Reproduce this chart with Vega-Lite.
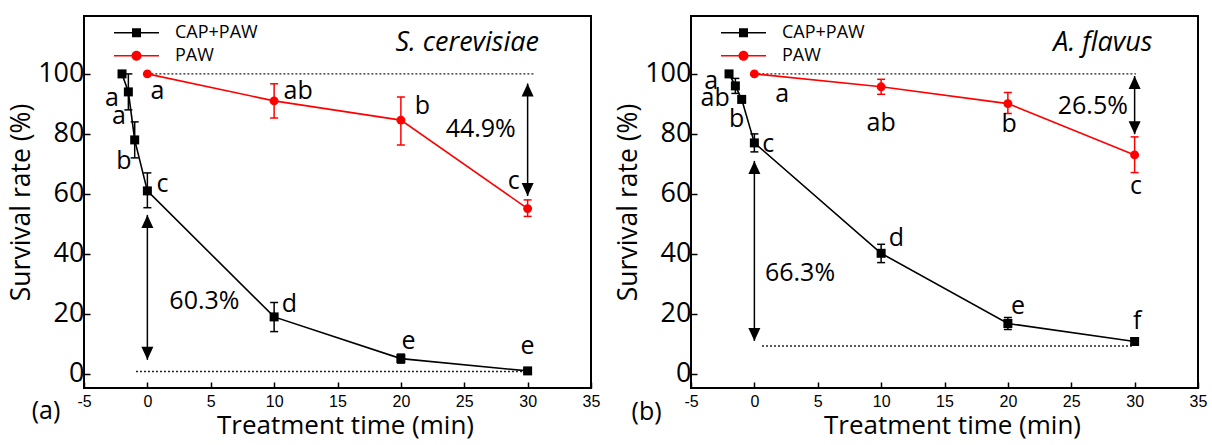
{
  "$schema": "https://vega.github.io/schema/vega-lite/v6.json",
  "padding": {"left": 7, "top": 15, "right": 5, "bottom": 2},
  "bounds": "flush",
  "spacing": 100,
  "datasets": {
    "sc": [
      {"s": "CAP+PAW", "t": -2, "v": 100, "lo": 100, "hi": 100},
      {"s": "CAP+PAW", "t": -1.5, "v": 94, "lo": 88, "hi": 100},
      {"s": "CAP+PAW", "t": -1, "v": 78, "lo": 72, "hi": 84},
      {"s": "CAP+PAW", "t": 0, "v": 61, "lo": 55.4, "hi": 67},
      {"s": "CAP+PAW", "t": 10, "v": 19, "lo": 14.1, "hi": 23.8},
      {"s": "CAP+PAW", "t": 20, "v": 5.1, "lo": 3.6, "hi": 6.6},
      {"s": "CAP+PAW", "t": 30, "v": 1, "lo": 0.4, "hi": 1.6},
      {"s": "PAW", "t": 0, "v": 100, "lo": 100, "hi": 100},
      {"s": "PAW", "t": 10, "v": 91, "lo": 85.3, "hi": 96.7},
      {"s": "PAW", "t": 20, "v": 84.6, "lo": 76.3, "hi": 92.3},
      {"s": "PAW", "t": 30, "v": 55.1, "lo": 52.5, "hi": 58}
    ],
    "af": [
      {"s": "CAP+PAW", "t": -2, "v": 100, "lo": 100, "hi": 100},
      {"s": "CAP+PAW", "t": -1.5, "v": 96, "lo": 93.5, "hi": 98.5},
      {"s": "CAP+PAW", "t": -1, "v": 91.5, "lo": 90.5, "hi": 92.5},
      {"s": "CAP+PAW", "t": 0, "v": 77, "lo": 74, "hi": 80},
      {"s": "CAP+PAW", "t": 10, "v": 40.2, "lo": 37.1, "hi": 43.2},
      {"s": "CAP+PAW", "t": 20, "v": 16.8, "lo": 14.8, "hi": 18.8},
      {"s": "CAP+PAW", "t": 30, "v": 10.8, "lo": 9.8, "hi": 11.8},
      {"s": "PAW", "t": 0, "v": 100, "lo": 100, "hi": 100},
      {"s": "PAW", "t": 10, "v": 95.7, "lo": 93.2, "hi": 98.2},
      {"s": "PAW", "t": 20, "v": 90.1, "lo": 86.8, "hi": 93.8},
      {"s": "PAW", "t": 30, "v": 73, "lo": 67.1, "hi": 79}
    ],
    "sc_hl": [
      {"x": 0, "x2": 30.6, "y": 100},
      {"x": -0.9, "x2": 30, "y": 0.8}
    ],
    "af_hl": [
      {"x": 0, "x2": 30.1, "y": 100},
      {"x": 0.6, "x2": 29.9, "y": 9.3}
    ],
    "sc_ar": [
      {"x": 0, "y1": 53, "y2": 4.7},
      {"x": 30, "y1": 96.8, "y2": 59.3}
    ],
    "af_ar": [
      {"x": 0, "y1": 71, "y2": 11},
      {"x": 30, "y1": 99.3, "y2": 79.9}
    ],
    "sc_lab": [
      {"x": -2.8, "y": 92, "t": "a"},
      {"x": -2.25, "y": 86, "t": "a"},
      {"x": -1.85, "y": 71, "t": "b"},
      {"x": 1.2, "y": 63.3, "t": "c"},
      {"x": 0.8, "y": 94.3, "t": "a"},
      {"x": 11.9, "y": 94.3, "t": "ab"},
      {"x": 21.7, "y": 89.3, "t": "b"},
      {"x": 28.9, "y": 64.3, "t": "c"},
      {"x": 11.2, "y": 23.3, "t": "d"},
      {"x": 20.6, "y": 11, "t": "e"},
      {"x": 30, "y": 9.3, "t": "e"},
      {"x": 4.5, "y": 24.3, "t": "60.3%"},
      {"x": 26.3, "y": 81.7, "t": "44.9%"},
      {"x": -8, "y": -12.3, "t": "(a)"}
    ],
    "af_lab": [
      {"x": -3.4, "y": 97.7, "t": "a"},
      {"x": -3.1, "y": 92, "t": "ab"},
      {"x": -1.4, "y": 84.9, "t": "b"},
      {"x": 1.1, "y": 76.6, "t": "c"},
      {"x": 2.2, "y": 93.2, "t": "a"},
      {"x": 10, "y": 83.7, "t": "ab"},
      {"x": 20.1, "y": 83.2, "t": "b"},
      {"x": 30.1, "y": 62.7, "t": "c"},
      {"x": 11.2, "y": 45.4, "t": "d"},
      {"x": 20.8, "y": 22.7, "t": "e"},
      {"x": 30.2, "y": 17.7, "t": "f"},
      {"x": 3.6, "y": 33.8, "t": "66.3%"},
      {"x": 26.7, "y": 89.3, "t": "26.5%"},
      {"x": -8.5, "y": -12.6, "t": "(b)"}
    ],
    "sc_title": [{"x": 30.9, "y": 110.4, "t": "S. cerevisiae"}],
    "af_title": [{"x": 31.4, "y": 110.4, "t": "A. flavus"}]
  },
  "hconcat": [
    {
      "width": 507,
      "height": 372,
      "layer": [
        {
          "data": {"name": "sc_hl"},
          "mark": {"type": "rule", "strokeDash": [2, 2], "strokeWidth": 1.3, "color": "#222222"},
          "encoding": {
            "x": {"field": "x", "type": "quantitative", "scale": {"domain": [-5, 35], "nice": false, "zero": false},
              "axis": {"values": [-5, -2.5, 0, 2.5, 5, 7.5, 10, 12.5, 15, 17.5, 20, 22.5, 25, 27.5, 30, 32.5, 35],
                "labelExpr": "datum.value % 5 === 0 ? '' + datum.value : ''",
                "tickSize": {"condition": {"test": "datum.value % 5 === 0", "value": -6}, "value": -3},
                "title": "Treatment time (min)", "labelFont": "Arial", "labelFontSize": 16, "labelPadding": 11,
                "titleFont": "Open Sans", "titleFontSize": 26, "titleFontWeight": "normal", "titlePadding": 3, "titleX": 261,
                "domain": false, "grid": false, "tickColor": "black", "tickWidth": 1.5, "labelColor": "black", "titleColor": "black",
                "labelFlush": false, "labelOverlap": false}},
            "x2": {"field": "x2"},
            "y": {"field": "y", "type": "quantitative", "scale": {"domain": [-4.7, 119.3], "nice": false, "zero": false},
              "axis": {"values": [0, 10, 20, 30, 40, 50, 60, 70, 80, 90, 100, 110],
                "labelExpr": "datum.value % 20 === 0 ? '' + datum.value : ''",
                "tickSize": {"condition": {"test": "datum.value % 20 === 0", "value": -6}, "value": -3},
                "title": "Survival rate (%)", "labelFont": "Open Sans", "labelFontSize": 27, "labelPadding": 6,
                "titleFont": "Open Sans", "titleFontSize": 26.5, "titleFontWeight": "normal", "titlePadding": 2,
                "domain": false, "grid": false, "tickColor": "black", "tickWidth": 1.5, "labelColor": "black", "titleColor": "black",
                "labelOverlap": false}}
          }
        },
        {
          "data": {"name": "sc_ar"},
          "mark": {"type": "rule", "strokeWidth": 1.5, "color": "black"},
          "encoding": {"x": {"field": "x", "type": "quantitative"}, "y": {"field": "y1", "type": "quantitative"}, "y2": {"field": "y2"}}
        },
        {
          "data": {"name": "sc_ar"},
          "mark": {"type": "point", "shape": "M0,0L-1.2,2.6L1.2,2.6Z", "filled": true, "size": 100, "color": "black", "opacity": 1},
          "encoding": {"x": {"field": "x", "type": "quantitative"}, "y": {"field": "y1", "type": "quantitative"}}
        },
        {
          "data": {"name": "sc_ar"},
          "mark": {"type": "point", "shape": "M0,0L-1.2,-2.6L1.2,-2.6Z", "filled": true, "size": 100, "color": "black", "opacity": 1},
          "encoding": {"x": {"field": "x", "type": "quantitative"}, "y": {"field": "y2", "type": "quantitative"}}
        },
        {
          "data": {"name": "sc"},
          "mark": {"type": "rule", "strokeWidth": 1.5},
          "encoding": {"x": {"field": "t", "type": "quantitative"}, "y": {"field": "lo", "type": "quantitative"}, "y2": {"field": "hi"},
            "color": {"field": "s", "type": "nominal", "scale": {"domain": ["CAP+PAW", "PAW"], "range": ["#000000", "#ff0000"]}}}
        },
        {
          "data": {"name": "sc"},
          "mark": {"type": "tick", "orient": "horizontal", "size": 8, "thickness": 1.5, "opacity": 1},
          "encoding": {"x": {"field": "t", "type": "quantitative"}, "y": {"field": "lo", "type": "quantitative"},
            "color": {"field": "s", "type": "nominal", "scale": {"domain": ["CAP+PAW", "PAW"], "range": ["#000000", "#ff0000"]}}}
        },
        {
          "data": {"name": "sc"},
          "mark": {"type": "tick", "orient": "horizontal", "size": 8, "thickness": 1.5, "opacity": 1},
          "encoding": {"x": {"field": "t", "type": "quantitative"}, "y": {"field": "hi", "type": "quantitative"},
            "color": {"field": "s", "type": "nominal", "scale": {"domain": ["CAP+PAW", "PAW"], "range": ["#000000", "#ff0000"]}}}
        },
        {
          "data": {"name": "sc"},
          "mark": {"type": "line", "strokeWidth": 1.6},
          "encoding": {"x": {"field": "t", "type": "quantitative"}, "y": {"field": "v", "type": "quantitative"},
            "color": {"field": "s", "type": "nominal", "scale": {"domain": ["CAP+PAW", "PAW"], "range": ["#000000", "#ff0000"]},
              "legend": {"orient": "none", "legendX": 43.5, "legendY": 7.7, "title": null, "labelFont": "Open Sans", "labelFontSize": 18,
                "labelColor": "black", "labelOffset": 29.5, "rowPadding": 5, "symbolSize": 100, "symbolStrokeWidth": 0,
                "encode": {"symbols": {"update": {
                  "shape": {"signal": "datum.value === 'PAW' ? 'M-4.5,-0.16L4.5,-0.16L4.5,0.16L-4.5,0.16Z M-1,0A1,1 0 1,1 1,0A1,1 0 1,1 -1,0Z' : 'M-4.5,-0.16L4.5,-0.16L4.5,0.16L-4.5,0.16Z M-0.9,-0.9L0.9,-0.9L0.9,0.9L-0.9,0.9Z'"},
                  "fill": {"signal": "datum.value === 'PAW' ? '#ff0000' : '#000000'"},
                  "stroke": {"value": "transparent"},
                  "size": {"value": 100}}}}}}}
        },
        {
          "data": {"name": "sc"},
          "transform": [{"filter": "datum.s === 'CAP+PAW'"}],
          "mark": {"type": "point", "filled": true, "opacity": 1, "shape": "square", "size": 81, "color": "#000000"},
          "encoding": {"x": {"field": "t", "type": "quantitative"}, "y": {"field": "v", "type": "quantitative"}}
        },
        {
          "data": {"name": "sc"},
          "transform": [{"filter": "datum.s === 'PAW'"}],
          "mark": {"type": "point", "filled": true, "opacity": 1, "shape": "circle", "size": 80, "color": "#ff0000"},
          "encoding": {"x": {"field": "t", "type": "quantitative"}, "y": {"field": "v", "type": "quantitative"}}
        },
        {
          "data": {"name": "sc_lab"},
          "mark": {"type": "text", "font": "Open Sans", "fontSize": 25, "color": "black", "align": "center", "baseline": "middle"},
          "encoding": {"x": {"field": "x", "type": "quantitative"}, "y": {"field": "y", "type": "quantitative"}, "text": {"field": "t"}}
        },
        {
          "data": {"name": "sc_title"},
          "mark": {"type": "text", "font": "Open Sans", "fontSize": 27, "fontStyle": "italic", "color": "black", "align": "right", "baseline": "middle"},
          "encoding": {"x": {"field": "x", "type": "quantitative"}, "y": {"field": "y", "type": "quantitative"}, "text": {"field": "t"}}
        }
      ]
    },
    {
      "width": 507,
      "height": 372,
      "layer": [
        {
          "data": {"name": "af_hl"},
          "mark": {"type": "rule", "strokeDash": [2, 2], "strokeWidth": 1.3, "color": "#222222"},
          "encoding": {
            "x": {"field": "x", "type": "quantitative", "scale": {"domain": [-5, 35], "nice": false, "zero": false},
              "axis": {"values": [-5, -2.5, 0, 2.5, 5, 7.5, 10, 12.5, 15, 17.5, 20, 22.5, 25, 27.5, 30, 32.5, 35],
                "labelExpr": "datum.value % 5 === 0 ? '' + datum.value : ''",
                "tickSize": {"condition": {"test": "datum.value % 5 === 0", "value": -6}, "value": -3},
                "title": "Treatment time (min)", "labelFont": "Arial", "labelFontSize": 16, "labelPadding": 11,
                "titleFont": "Open Sans", "titleFontSize": 26, "titleFontWeight": "normal", "titlePadding": 3, "titleX": 261,
                "domain": false, "grid": false, "tickColor": "black", "tickWidth": 1.5, "labelColor": "black", "titleColor": "black",
                "labelFlush": false, "labelOverlap": false}},
            "x2": {"field": "x2"},
            "y": {"field": "y", "type": "quantitative", "scale": {"domain": [-4.7, 119.3], "nice": false, "zero": false},
              "axis": {"values": [0, 10, 20, 30, 40, 50, 60, 70, 80, 90, 100, 110],
                "labelExpr": "datum.value % 20 === 0 ? '' + datum.value : ''",
                "tickSize": {"condition": {"test": "datum.value % 20 === 0", "value": -6}, "value": -3},
                "title": "Survival rate (%)", "labelFont": "Open Sans", "labelFontSize": 27, "labelPadding": 6,
                "titleFont": "Open Sans", "titleFontSize": 26.5, "titleFontWeight": "normal", "titlePadding": 2,
                "domain": false, "grid": false, "tickColor": "black", "tickWidth": 1.5, "labelColor": "black", "titleColor": "black",
                "labelOverlap": false}}
          }
        },
        {
          "data": {"name": "af_ar"},
          "mark": {"type": "rule", "strokeWidth": 1.5, "color": "black"},
          "encoding": {"x": {"field": "x", "type": "quantitative"}, "y": {"field": "y1", "type": "quantitative"}, "y2": {"field": "y2"}}
        },
        {
          "data": {"name": "af_ar"},
          "mark": {"type": "point", "shape": "M0,0L-1.2,2.6L1.2,2.6Z", "filled": true, "size": 100, "color": "black", "opacity": 1},
          "encoding": {"x": {"field": "x", "type": "quantitative"}, "y": {"field": "y1", "type": "quantitative"}}
        },
        {
          "data": {"name": "af_ar"},
          "mark": {"type": "point", "shape": "M0,0L-1.2,-2.6L1.2,-2.6Z", "filled": true, "size": 100, "color": "black", "opacity": 1},
          "encoding": {"x": {"field": "x", "type": "quantitative"}, "y": {"field": "y2", "type": "quantitative"}}
        },
        {
          "data": {"name": "af"},
          "mark": {"type": "rule", "strokeWidth": 1.5},
          "encoding": {"x": {"field": "t", "type": "quantitative"}, "y": {"field": "lo", "type": "quantitative"}, "y2": {"field": "hi"},
            "color": {"field": "s", "type": "nominal", "scale": {"domain": ["CAP+PAW", "PAW"], "range": ["#000000", "#ff0000"]}}}
        },
        {
          "data": {"name": "af"},
          "mark": {"type": "tick", "orient": "horizontal", "size": 8, "thickness": 1.5, "opacity": 1},
          "encoding": {"x": {"field": "t", "type": "quantitative"}, "y": {"field": "lo", "type": "quantitative"},
            "color": {"field": "s", "type": "nominal", "scale": {"domain": ["CAP+PAW", "PAW"], "range": ["#000000", "#ff0000"]}}}
        },
        {
          "data": {"name": "af"},
          "mark": {"type": "tick", "orient": "horizontal", "size": 8, "thickness": 1.5, "opacity": 1},
          "encoding": {"x": {"field": "t", "type": "quantitative"}, "y": {"field": "hi", "type": "quantitative"},
            "color": {"field": "s", "type": "nominal", "scale": {"domain": ["CAP+PAW", "PAW"], "range": ["#000000", "#ff0000"]}}}
        },
        {
          "data": {"name": "af"},
          "mark": {"type": "line", "strokeWidth": 1.6},
          "encoding": {"x": {"field": "t", "type": "quantitative"}, "y": {"field": "v", "type": "quantitative"},
            "color": {"field": "s", "type": "nominal", "scale": {"domain": ["CAP+PAW", "PAW"], "range": ["#000000", "#ff0000"]},
              "legend": {"orient": "none", "legendX": 43.5, "legendY": 7.7, "title": null, "labelFont": "Open Sans", "labelFontSize": 18,
                "labelColor": "black", "labelOffset": 29.5, "rowPadding": 5, "symbolSize": 100, "symbolStrokeWidth": 0,
                "encode": {"symbols": {"update": {
                  "shape": {"signal": "datum.value === 'PAW' ? 'M-4.5,-0.16L4.5,-0.16L4.5,0.16L-4.5,0.16Z M-1,0A1,1 0 1,1 1,0A1,1 0 1,1 -1,0Z' : 'M-4.5,-0.16L4.5,-0.16L4.5,0.16L-4.5,0.16Z M-0.9,-0.9L0.9,-0.9L0.9,0.9L-0.9,0.9Z'"},
                  "fill": {"signal": "datum.value === 'PAW' ? '#ff0000' : '#000000'"},
                  "stroke": {"value": "transparent"},
                  "size": {"value": 100}}}}}}}
        },
        {
          "data": {"name": "af"},
          "transform": [{"filter": "datum.s === 'CAP+PAW'"}],
          "mark": {"type": "point", "filled": true, "opacity": 1, "shape": "square", "size": 81, "color": "#000000"},
          "encoding": {"x": {"field": "t", "type": "quantitative"}, "y": {"field": "v", "type": "quantitative"}}
        },
        {
          "data": {"name": "af"},
          "transform": [{"filter": "datum.s === 'PAW'"}],
          "mark": {"type": "point", "filled": true, "opacity": 1, "shape": "circle", "size": 80, "color": "#ff0000"},
          "encoding": {"x": {"field": "t", "type": "quantitative"}, "y": {"field": "v", "type": "quantitative"}}
        },
        {
          "data": {"name": "af_lab"},
          "mark": {"type": "text", "font": "Open Sans", "fontSize": 25, "color": "black", "align": "center", "baseline": "middle"},
          "encoding": {"x": {"field": "x", "type": "quantitative"}, "y": {"field": "y", "type": "quantitative"}, "text": {"field": "t"}}
        },
        {
          "data": {"name": "af_title"},
          "mark": {"type": "text", "font": "Open Sans", "fontSize": 27, "fontStyle": "italic", "color": "black", "align": "right", "baseline": "middle"},
          "encoding": {"x": {"field": "x", "type": "quantitative"}, "y": {"field": "y", "type": "quantitative"}, "text": {"field": "t"}}
        }
      ]
    }
  ],
  "resolve": {"scale": {"color": "independent"}, "legend": {"color": "independent"}},
  "config": {
    "view": {"stroke": "black", "strokeWidth": 2},
    "font": "Open Sans"
  }
}
